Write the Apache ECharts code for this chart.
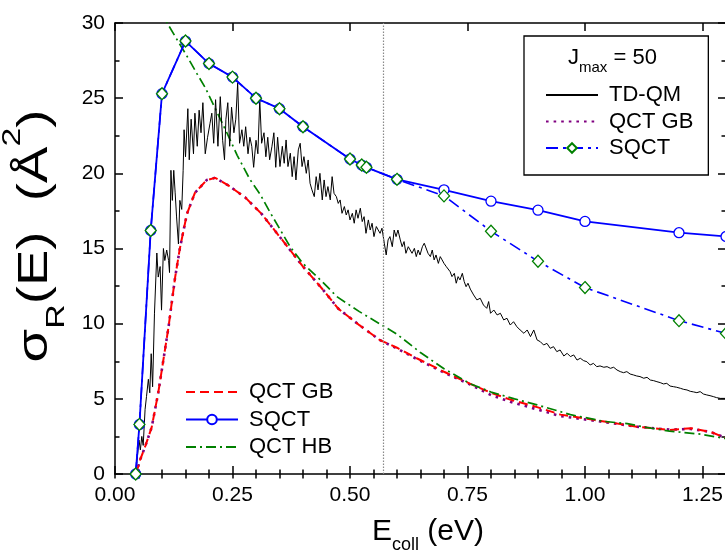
<!DOCTYPE html>
<html>
<head>
<meta charset="utf-8">
<script src="https://cdn.jsdelivr.net/npm/echarts@6/dist/echarts.min.js"></script>
<style>
  html, body { margin: 0; padding: 0; background: #ffffff; }
  #chart { width: 725px; height: 553px; }
</style>
</head>
<body>
<div id="chart"></div>
<script>
// Reaction cross section vs collision energy: TD-QM, QCT (GB / HB) and SQCT results.

const xTickValues = [0, 0.25, 0.5, 0.75, 1.0, 1.25];
const yTickValues = [0, 5, 10, 15, 20, 25, 30];
const xMarkerE = 0.57;

// SQCT, unrestricted J (circles) and J_max = 50 (diamonds)
const sqctE = [0.044, 0.052, 0.076, 0.10, 0.15, 0.20, 0.25, 0.30, 0.35, 0.40, 0.50, 0.525, 0.535, 0.60, 0.70, 0.80, 0.90, 1.00, 1.20, 1.30];
const sqctSigma = [0.0, 3.3, 16.2, 25.3, 28.8, 27.3, 26.4, 25.0, 24.3, 23.1, 20.95, 20.55, 20.4, 19.6, 18.9, 18.15, 17.55, 16.8, 16.05, 15.8];
const sqctJ50Sigma = [0.0, 3.3, 16.2, 25.3, 28.8, 27.3, 26.4, 25.0, 24.3, 23.1, 20.95, 20.55, 20.4, 19.6, 18.5, 16.15, 14.15, 12.4, 10.2, 9.35];

// QCT with Gaussian binning (unrestricted and J_max = 50)
const qctGbE = [0.045, 0.053, 0.065, 0.078, 0.092, 0.103, 0.114, 0.128, 0.138, 0.153, 0.170, 0.195, 0.213, 0.241, 0.277, 0.312, 0.355, 0.40, 0.444, 0.475, 0.52, 0.564, 0.60, 0.642, 0.70, 0.756, 0.80, 0.841, 0.898, 0.948, 1.019, 1.11, 1.18, 1.225, 1.267, 1.30];
const qctGbSigma = [0.0, 0.9, 1.9, 3.1, 5.4, 7.6, 9.8, 13.1, 15.0, 17.3, 18.7, 19.55, 19.7, 19.2, 18.4, 17.3, 15.6, 13.8, 12.2, 11.0, 9.9, 8.9, 8.4, 7.7, 6.8, 6.0, 5.4, 4.95, 4.45, 3.95, 3.6, 3.15, 2.93, 3.05, 2.8, 2.4];
const qctGbJ50Sigma = [0.0, 0.9, 1.9, 3.1, 5.4, 7.6, 9.8, 13.1, 15.0, 17.3, 18.7, 19.55, 19.7, 19.2, 18.4, 17.3, 15.6, 13.8, 12.2, 11.0, 9.9, 8.9, 8.35, 7.65, 6.75, 5.95, 5.25, 4.8, 4.3, 3.85, 3.55, 3.15, 2.95, 3.0, 2.8, 2.4];

// QCT with histogram binning
const qctHbE = [0.10, 0.111, 0.13, 0.153, 0.175, 0.192, 0.215, 0.238, 0.26, 0.287, 0.309, 0.33, 0.358, 0.373, 0.40, 0.444, 0.472, 0.52, 0.568, 0.60, 0.649, 0.70, 0.756, 0.80, 0.85, 0.898, 0.969, 1.04, 1.09, 1.13, 1.18, 1.246, 1.30];
const qctHbSigma = [31.0, 30.0, 29.0, 27.8, 26.6, 25.7, 24.2, 22.7, 21.2, 19.6, 18.6, 17.4, 15.9, 15.1, 14.0, 12.7, 11.8, 10.8, 9.9, 9.3, 8.1, 7.0, 6.0, 5.45, 5.0, 4.6, 3.95, 3.5, 3.35, 3.1, 2.85, 2.65, 2.35];

// TD-QM (E in eV, sigma in A^2)
const tdqm = [
  [0.043, 0.0], [0.047, 0.9], [0.051, 2.26], [0.054, 1.6], [0.057, 2.5], [0.060, 1.9], [0.064, 4.3], [0.067, 5.15],
  [0.071, 6.3], [0.074, 5.4], [0.077, 8.0], [0.080, 5.8], [0.084, 10.7], [0.089, 14.7], [0.092, 13.1], [0.096, 13.8],
  [0.099, 10.9], [0.103, 15.0], [0.106, 14.2], [0.110, 14.9], [0.114, 14.2], [0.116, 13.4], [0.119, 20.2], [0.122, 18.2],
  [0.125, 20.2], [0.128, 18.7], [0.131, 17.1], [0.135, 15.3], [0.138, 18.2], [0.142, 17.6], [0.145, 20.2], [0.147, 22.9],
  [0.150, 21.1], [0.155, 24.3], [0.158, 20.9], [0.162, 23.6], [0.167, 21.3], [0.170, 24.0], [0.175, 21.8], [0.179, 24.2],
  [0.183, 22.7], [0.187, 24.7], [0.192, 21.3], [0.197, 22.4], [0.202, 23.3], [0.206, 24.0], [0.210, 22.0], [0.214, 24.9],
  [0.219, 21.8], [0.224, 25.1], [0.229, 22.2], [0.233, 20.9], [0.236, 23.6], [0.240, 24.7], [0.244, 21.8], [0.248, 24.4],
  [0.253, 22.7], [0.257, 23.6], [0.261, 26.0], [0.265, 22.0], [0.270, 22.9], [0.274, 21.8], [0.278, 23.1], [0.283, 21.3],
  [0.287, 22.4], [0.291, 21.8], [0.295, 20.4], [0.300, 22.2], [0.304, 21.3], [0.308, 24.9], [0.312, 22.0], [0.317, 22.7],
  [0.321, 21.1], [0.325, 22.4], [0.329, 20.9], [0.334, 21.8], [0.338, 22.7], [0.342, 20.4], [0.346, 22.4],
  [0.351, 20.45], [0.356, 21.8], [0.360, 20.67], [0.364, 22.22], [0.368, 20.45], [0.373, 21.34], [0.377, 19.78], [0.381, 21.11],
  [0.385, 19.56], [0.390, 21.56], [0.394, 22.0], [0.398, 20.45], [0.402, 21.11], [0.407, 20.0], [0.411, 20.89], [0.415, 19.34],
  [0.419, 18.9], [0.424, 18.45], [0.428, 19.78], [0.432, 18.9], [0.436, 20.0], [0.441, 18.23], [0.445, 19.56], [0.449, 18.45],
  [0.453, 19.12], [0.458, 18.23], [0.462, 19.78], [0.466, 18.67], [0.471, 18.45], [0.475, 18.0], [0.479, 18.23], [0.483, 17.34],
  [0.488, 17.79], [0.492, 17.23], [0.496, 17.57], [0.500, 16.9], [0.505, 17.34], [0.509, 16.68], [0.513, 17.57], [0.517, 17.01],
  [0.522, 17.68], [0.526, 16.79], [0.530, 17.12], [0.534, 16.01], [0.539, 16.9], [0.543, 16.23], [0.547, 16.68], [0.551, 15.79],
  [0.556, 16.46], [0.560, 16.23], [0.564, 16.01], [0.568, 16.35], [0.573, 15.35], [0.577, 14.57], [0.581, 15.57], [0.585, 15.79],
  [0.590, 15.12], [0.594, 16.23], [0.598, 15.79], [0.602, 16.23], [0.607, 15.57], [0.611, 15.12], [0.615, 15.46], [0.619, 14.68],
  [0.624, 15.12], [0.628, 14.9], [0.632, 14.68], [0.637, 15.01], [0.641, 14.46], [0.645, 14.9], [0.649, 14.57], [0.654, 15.12],
  [0.658, 15.35], [0.662, 15.46], [0.666, 14.68], [0.671, 14.46], [0.675, 14.9], [0.679, 14.24], [0.683, 14.57], [0.688, 14.01],
  [0.692, 14.46], [0.696, 14.24], [0.700, 14.01], [0.705, 13.79], [0.709, 13.9], [0.713, 13.46], [0.717, 13.13], [0.722, 13.35],
  [0.726, 12.69], [0.730, 13.13], [0.734, 12.91], [0.739, 13.35], [0.743, 12.8], [0.747, 12.46], [0.751, 12.69], [0.756, 12.3],
  [0.763, 11.91], [0.770, 11.58], [0.777, 11.69], [0.784, 11.24], [0.791, 11.02], [0.795, 11.47], [0.799, 10.69], [0.806, 10.91],
  [0.813, 10.58], [0.820, 10.69], [0.827, 10.25], [0.834, 10.36], [0.841, 9.91], [0.848, 10.13], [0.855, 9.80], [0.862, 9.58],
  [0.870, 9.36], [0.877, 9.58], [0.884, 9.14], [0.891, 9.58], [0.898, 8.92], [0.905, 8.80], [0.912, 8.58], [0.919, 8.69],
  [0.926, 8.36], [0.933, 8.47], [0.940, 8.14], [0.947, 8.25], [0.955, 7.85], [0.962, 8.03], [0.969, 7.81], [0.976, 7.92],
  [0.983, 7.58], [0.990, 7.70], [0.997, 7.54], [1.004, 7.47], [1.011, 7.25], [1.018, 7.36], [1.025, 7.14], [1.032, 7.19],
  [1.040, 7.10], [1.047, 7.14], [1.054, 7.03], [1.061, 7.10], [1.068, 6.92], [1.075, 6.81], [1.082, 6.74], [1.089, 6.81],
  [1.096, 6.65], [1.103, 6.59], [1.110, 6.52], [1.117, 6.48], [1.125, 6.37], [1.132, 6.43], [1.139, 6.25], [1.146, 6.21],
  [1.153, 6.14], [1.160, 6.08], [1.167, 5.99], [1.174, 6.03], [1.181, 5.85], [1.188, 5.81], [1.195, 5.77], [1.203, 5.70],
  [1.210, 5.63], [1.217, 5.59], [1.224, 5.50], [1.231, 5.46], [1.238, 5.41], [1.245, 5.48], [1.252, 5.32], [1.259, 5.26],
  [1.266, 5.21], [1.273, 5.15], [1.280, 5.08], [1.288, 5.03], [1.300, 5.03]
];

const FONT = '"Liberation Sans", Arial, Helvetica, sans-serif';
const zip = (xs, ys) => xs.map((x, i) => [x, ys[i]]);

const X_MIN = 0, X_MAX = 1.3, Y_MIN = 0, Y_MAX = 30;

function isMajorX(v) {
  return xTickValues.some(t => Math.abs(t - v) < 1e-6);
}

function baseX(extra) {
  return Object.assign({
    type: 'value', min: X_MIN, max: X_MAX,
    axisLine: { show: true, onZero: false, lineStyle: { color: '#000', width: 1.5 } },
    splitLine: { show: false },
    axisLabel: { show: false },
    axisTick: { show: true, inside: true, length: 8, lineStyle: { color: '#000', width: 1.5 } }
  }, extra);
}
function baseY(extra) {
  return Object.assign({
    type: 'value', min: Y_MIN, max: Y_MAX, interval: 5,
    axisLine: { show: true, onZero: false, lineStyle: { color: '#000', width: 1.5 } },
    splitLine: { show: false },
    axisLabel: { show: false },
    axisTick: { show: true, inside: true, length: 8, lineStyle: { color: '#000', width: 1.5 } },
    minorTick: { show: true, splitNumber: 2, length: 4.5, lineStyle: { color: '#000', width: 1.5 } }
  }, extra);
}

const legendName = n => n.replace(' (Jmax 50)', '');
// legend entries for line-only series: line sample without a marker
const lineOnly = name => ({ name: name, itemStyle: { opacity: 0 } });

const option = {
  animation: false,
  backgroundColor: '#ffffff',
  grid: { left: 115, top: 23, right: -1, bottom: 79, containLabel: false, outerBoundsMode: 'none' },
  xAxis: [
    baseX({
      position: 'bottom', interval: 0.25,
      axisLabel: {
        show: true, inside: false, margin: 11, color: '#000', fontSize: 21, fontFamily: FONT,
        formatter: v => (isMajorX(v) ? v.toFixed(2) : '')
      }
    }),
    baseX({ position: 'bottom', interval: 0.05, axisLine: { show: false },
      axisTick: { show: true, inside: true, length: 4.5, lineStyle: { color: '#000', width: 1.5 } } }),
    baseX({ position: 'top', interval: 0.25 }),
    baseX({ position: 'top', interval: 0.05, axisLine: { show: false },
      axisTick: { show: true, inside: true, length: 4.5, lineStyle: { color: '#000', width: 1.5 } } })
  ],
  yAxis: [
    baseY({
      position: 'left',
      axisLabel: {
        show: true, margin: 10, color: '#000', fontSize: 21, fontFamily: FONT,
        formatter: v => (yTickValues.indexOf(v) >= 0 ? String(v) : '')
      }
    }),
    baseY({ position: 'right' })
  ],
  legend: [
    {
      data: [lineOnly('TD-QM'), lineOnly('QCT GB (Jmax 50)'), 'SQCT (Jmax 50)'],
      orient: 'vertical', left: 524, top: 36,
      padding: [48, 15, 16, 21],
      itemWidth: 52, itemHeight: 12, itemGap: 4.5,
      borderColor: '#000', borderWidth: 1.3, backgroundColor: '#fff',
      selectedMode: false,
      formatter: legendName,
      textStyle: { color: '#000', fontSize: 22, fontFamily: FONT, padding: [0, 0, 0, 6] }
    },
    {
      data: [lineOnly('QCT GB'), 'SQCT', lineOnly('QCT HB')],
      orient: 'vertical', left: 185, top: 381,
      padding: 0,
      itemWidth: 52, itemHeight: 12, itemGap: 5.5,
      selectedMode: false,
      formatter: legendName,
      textStyle: { color: '#000', fontSize: 22, fontFamily: FONT, padding: [0, 0, 0, 6] }
    }
  ],
  graphic: [
    {
      type: 'text', x: 568, y: 58, z: 100,
      style: {
        text: '{a|J}{b|max}{a| = 50}',
        align: 'left', verticalAlign: 'middle',
        rich: {
          a: { fontSize: 22, fontFamily: FONT, fill: '#000', lineHeight: 34 },
          b: { fontSize: 15, fontFamily: FONT, fill: '#000', lineHeight: 15, verticalAlign: 'bottom' }
        }
      }
    },
    {
      type: 'text', x: 372, y: 532,
      style: {
        text: '{m|E}{s|coll}{m| (eV)}',
        align: 'left', verticalAlign: 'middle',
        rich: {
          m: { fontSize: 30, fontFamily: FONT, fill: '#000', lineHeight: 44 },
          s: { fontSize: 18, fontFamily: FONT, fill: '#000', lineHeight: 18, verticalAlign: 'bottom' }
        }
      }
    },
    {
      type: 'text', x: 35, y: 236, rotation: Math.PI / 2, scaleX: 1.3, scaleY: 1,
      style: {
        text: '{m|σ}{s|R}{m|(E)  (Å}{p|2}{m|)}',
        align: 'center', verticalAlign: 'middle',
        rich: {
          m: { fontSize: 42, fontFamily: FONT, fill: '#000', lineHeight: 70 },
          s: { fontSize: 26, fontFamily: FONT, fill: '#000', lineHeight: 26, verticalAlign: 'bottom' },
          p: { fontSize: 26, fontFamily: FONT, fill: '#000', lineHeight: 30, verticalAlign: 'top' }
        }
      }
    }
  ],
  series: [
    {
      name: 'QCT GB (Jmax 50)', type: 'line', z: 2,
      data: zip(qctGbE, qctGbJ50Sigma),
      symbol: 'none', smooth: false,
      lineStyle: { color: '#800080', width: 2.6, type: [2.6, 5] },
      itemStyle: { color: '#800080' }
    },
    {
      name: 'QCT GB', type: 'line', z: 3,
      data: zip(qctGbE, qctGbSigma),
      symbol: 'none',
      lineStyle: { color: '#ff0000', width: 2, type: [9, 5] },
      itemStyle: { color: '#ff0000' }
    },
    {
      name: 'QCT HB', type: 'line', z: 3,
      data: zip(qctHbE, qctHbSigma),
      symbol: 'none',
      lineStyle: { color: '#008000', width: 1.7, type: [10, 4, 2, 4] },
      itemStyle: { color: '#008000' }
    },
    {
      name: 'TD-QM', type: 'line', z: 4,
      data: tdqm,
      symbol: 'none', sampling: null,
      lineStyle: { color: '#000', width: 1 },
      itemStyle: { color: '#000' },
      markLine: {
        silent: true, symbol: ['none', 'none'], animation: false,
        label: { show: false },
        lineStyle: { color: '#8a8a8a', width: 1.2, type: [1.5, 1.5] },
        data: [{ xAxis: xMarkerE }]
      }
    },
    {
      name: 'SQCT', type: 'line', z: 5,
      data: zip(sqctE, sqctSigma),
      symbol: 'circle', symbolSize: 10, showAllSymbol: true,
      lineStyle: { color: '#0000ff', width: 1.8 },
      itemStyle: { color: '#ffffff', borderColor: '#0000ff', borderWidth: 1.3 }
    },
    {
      name: 'SQCT (Jmax 50)', type: 'line', z: 6,
      data: zip(sqctE, sqctJ50Sigma),
      symbol: 'diamond', symbolSize: [11, 12], showAllSymbol: true,
      lineStyle: { color: '#0000ff', width: 1.6, type: [12, 5, 3, 5] },
      itemStyle: { color: '#ffffff', borderColor: '#008000', borderWidth: 1.3 }
    }
  ]
};

const chart = echarts.init(document.getElementById('chart'), null, { renderer: 'canvas' });
chart.setOption(option);
</script>
</body>
</html>
